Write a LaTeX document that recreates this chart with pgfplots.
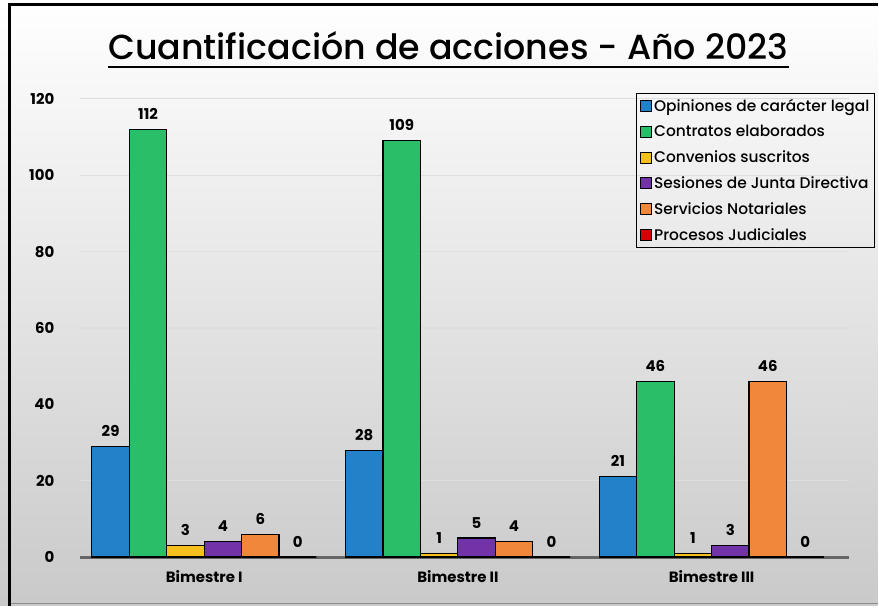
\documentclass[border=0pt]{standalone}
\usepackage{fontspec}
\setmainfont{Poppins}
\newfontfamily\medfont{Poppins Medium}
\usepackage{pgfplots}
\pgfplotsset{compat=1.18}
\definecolor{cblue}{HTML}{2281C8}
\definecolor{cgreen}{HTML}{2BBE68}
\definecolor{cyellow}{HTML}{F5C01E}
\definecolor{cpurple}{HTML}{7333A8}
\definecolor{corange}{HTML}{F0873A}
\definecolor{cred}{HTML}{D80000}
\begin{document}
\begin{tikzpicture}
\shade[top color=white, bottom color=black!21] (0bp,0bp) rectangle (879bp,-607bp);
\draw[black!45, line width=1bp] (9.5bp,-605bp) -- (879bp,-605bp);
\draw[line width=3bp] (9.5bp,-607bp) -- (9.5bp,-4.5bp) -- (879bp,-4.5bp);
\node[font=\medfont\fontsize{35}{38}\selectfont, anchor=base, inner sep=0pt] (t) at (449bp,-60bp) {Cuantificación de acciones - Año 2023};
\draw[line width=2.4bp] ([yshift=-7bp]t.base west) -- ([yshift=-7bp]t.base east);
\begin{axis}[
  at={(80bp,-558bp)}, anchor=south west,
  scale only axis, width=770bp, height=459bp,
  ymin=0, ymax=120, xmin=-0.49, xmax=2.54,
  enlargelimits=false,
  ybar=0pt, bar width=37.5bp,
  xtick={0,1,2}, xticklabels={Bimestre I, Bimestre II, Bimestre III},
  ytick={0,20,...,120},
  axis x line=bottom, axis y line=left,
  y axis line style={draw=none},
  x axis line style={-, line width=3bp, draw=black!60},
  tick style={draw=none},
  ymajorgrids, grid style={black!13, line width=1.2bp},
  /pgf/number format/assume math mode=true,
  tick label style={font=\bfseries\fontsize{15}{15}\selectfont},
  yticklabel style={xshift=-20bp},
  xticklabel style={yshift=-8bp},
  nodes near coords,
  every node near coord/.append style={font=\bfseries\fontsize{15}{15}\selectfont, black, yshift=6bp},
  legend style={at={(1.035,1.013)}, anchor=north east, draw=black, line width=1.2bp,
    fill=none, font=\medfont\fontsize{15.5}{16}\selectfont, row sep=8.6bp, inner sep=3.5bp,
    cells={anchor=west}},
  legend image code/.code={\draw[#1,draw=black,line width=0.8bp] (0bp,-5.5bp) rectangle (11bp,5.5bp);},
]
\addplot[fill=cblue, draw=black, line width=1.2bp] coordinates {(0,29) (1,28) (2,21)};
\addplot[fill=cgreen, draw=black, line width=1.2bp] coordinates {(0,112) (1,109) (2,46)};
\addplot[fill=cyellow, draw=black, line width=1.2bp] coordinates {(0,3) (1,1) (2,1)};
\addplot[fill=cpurple, draw=black, line width=1.2bp] coordinates {(0,4) (1,5) (2,3)};
\addplot[fill=corange, draw=black, line width=1.2bp] coordinates {(0,6) (1,4) (2,46)};
\addplot[fill=cred, draw=black, line width=1.2bp] coordinates {(0,0) (1,0) (2,0)};
\legend{Opiniones de carácter legal, Contratos elaborados, Convenios suscritos, Sesiones de Junta Directiva, Servicios Notariales, Procesos Judiciales}
\end{axis}
\end{tikzpicture}
\end{document}
